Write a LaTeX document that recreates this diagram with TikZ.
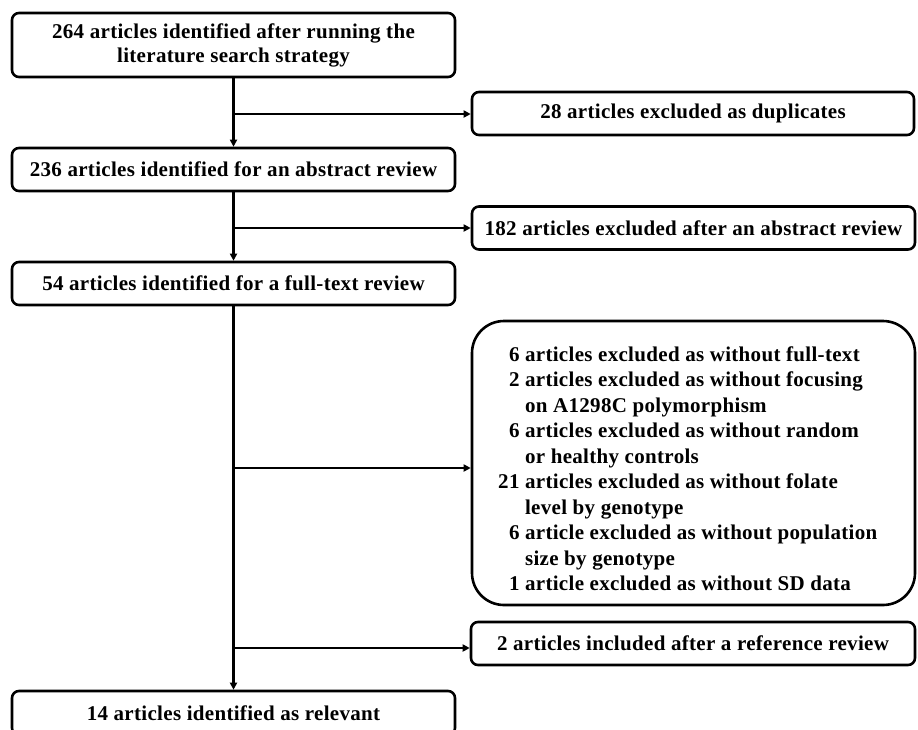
\documentclass[tikz,border=0pt]{standalone}
\usepackage{fontspec}
\setmainfont{Liberation Serif}[LetterSpace=1.5]
\usetikzlibrary{arrows.meta}
\begin{document}
\begin{tikzpicture}[x=1pt,y=-1pt,
  box/.style={draw, line width=2.6pt, rounded corners=7pt, align=center, inner sep=0pt,
    font=\fontsize{21}{24}\selectfont\bfseries},
  conn/.style={line width=2.6pt, -{Triangle[length=7pt,width=7pt]}},
  plain/.style={line width=2.6pt}]
\clip (0,0) rectangle (918,729);
\fill[white] (0,0) rectangle (918,729);
\node[box, minimum width=443pt, minimum height=64pt] (b1) at (233.5,45) {264 articles identified after running the\\literature search strategy};
\node[box, minimum width=443pt, minimum height=43pt] (b2) at (233.5,169.5) {236 articles identified for an abstract review};
\node[box, minimum width=443pt, minimum height=43pt] (b3) at (233.5,283.5) {54 articles identified for a full-text review};
\node[box, minimum width=443pt, minimum height=44pt] (b4) at (233.5,713) {14 articles identified as relevant};
\node[box, minimum width=442pt, minimum height=43pt] (e1) at (693,113.5) {28 articles excluded as duplicates};
\node[box, minimum width=443pt, minimum height=43pt] (e2) at (693.5,228) {182 articles excluded after an abstract review};
\node[box, rounded corners=32pt, minimum width=443pt, minimum height=284pt] (e3) at (693.5,463) {};
\node[font=\fontsize{21}{25.5}\selectfont\bfseries, anchor=north west, inner sep=0pt] (e3t) at (498,343) {%
\begin{tabular}{@{}r@{\ }l@{}}
6 & articles excluded as without full-text\\
2 & articles excluded as without focusing\\
  & on A1298C polymorphism\\
6 & articles excluded as without random\\
  & or healthy controls\\
21 & articles excluded as without folate\\
  & level by genotype\\
6 & article excluded as without population\\
  & size by genotype\\
1 & article excluded as without SD data
\end{tabular}};
\node[box, minimum width=444pt, minimum height=43pt] (i1) at (693,643.5) {2 articles included after a reference review};
\coordinate (s1) at (233,114);
\coordinate (s2) at (233,228);
\coordinate (s3) at (233,468);
\coordinate (s4) at (233,648);
\draw[conn] (b1.south) -- (b2.north);
\draw[conn] (b2.south) -- (b3.north);
\draw[conn] (b3.south) -- (b4.north);
\draw[conn] (s1) -- (s1 -| e1.west);
\draw[conn] (s2) -- (s2 -| e2.west);
\draw[conn] (s3) -- (s3 -| e3.west);
\draw[conn] (s4) -- (s4 -| i1.west);
\end{tikzpicture}
\end{document}
